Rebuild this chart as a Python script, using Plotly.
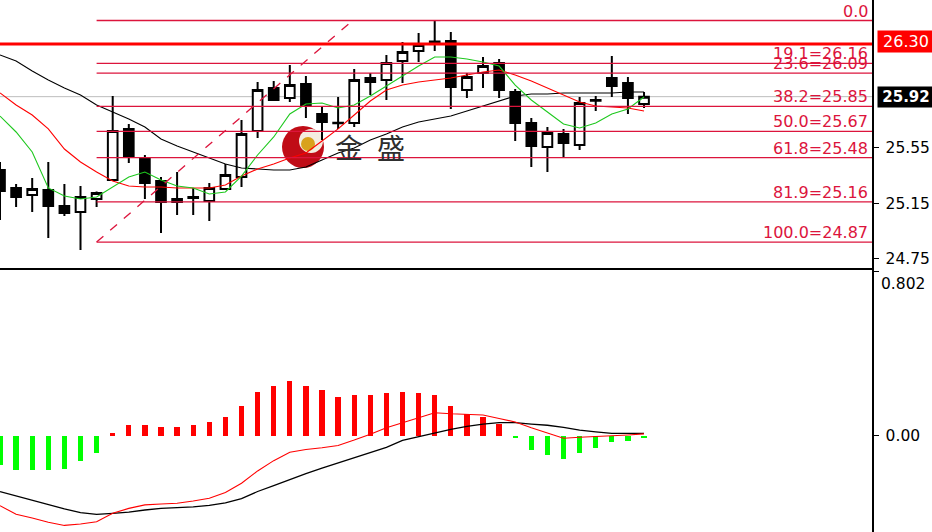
import plotly.graph_objects as go

# ---------------- data ----------------
idx = list(range(41))
opens = [25.391, 25.261, 25.210, 25.246, 25.131, 25.087, 25.181, 25.318, 25.687, 25.477,
         25.311, 25.160, 25.196, 25.167, 25.253, 25.340, 25.672, 25.983, 25.910, 26.011,
         25.795, 25.728, 25.730, 26.055, 26.040, 26.178, 26.250, 26.300, 26.322, 25.968,
         26.091, 26.163, 25.954, 25.730, 25.557, 25.651, 25.571, 25.890, 26.055, 26.019,
         25.867]
highs = [25.448, 25.289, 25.333, 25.448, 25.289, 25.275, 25.235, 25.925, 25.723, 25.499,
         25.340, 25.376, 25.261, 25.297, 25.434, 25.752, 26.026, 26.033, 26.149, 26.069,
         25.845, 25.918, 26.120, 26.091, 26.221, 26.315, 26.380, 26.474, 26.387, 26.091,
         26.206, 26.192, 25.975, 25.766, 25.701, 25.687, 25.918, 25.925, 26.214, 26.062,
         25.954]
lows = [25.030, 25.123, 25.087, 24.900, 25.058, 24.813, 25.123, 25.311, 25.441, 25.181,
        24.936, 25.066, 25.066, 25.022, 25.246, 25.268, 25.622, 25.889, 25.882, 25.766,
        25.607, 25.687, 25.701, 25.932, 25.896, 26.019, 26.170, 26.250, 25.831, 25.910,
        25.983, 25.910, 25.600, 25.412, 25.376, 25.484, 25.535, 25.817, 25.918, 25.795,
        25.838]
closes = [25.239, 25.196, 25.253, 25.131, 25.080, 25.196, 25.225, 25.672, 25.492, 25.297,
          25.160, 25.181, 25.188, 25.261, 25.354, 25.651, 25.968, 25.896, 26.004, 25.860,
          25.737, 25.732, 26.040, 26.026, 26.163, 26.243, 26.293, 26.318, 25.990, 26.062,
          26.141, 25.968, 25.730, 25.564, 25.658, 25.586, 25.874, 25.896, 25.997, 25.910,
          25.920]

ma_green = [25.780, 25.665, 25.521, 25.261, 25.203, 25.181, 25.196, 25.268, 25.340, 25.376,
            25.318, 25.275, 25.261, 25.217, 25.232, 25.347, 25.499, 25.629, 25.795, 25.867,
            25.874, 25.838, 25.860, 25.925, 25.997, 26.069, 26.141, 26.206, 26.206, 26.192,
            26.170, 26.141, 26.004, 25.896, 25.809, 25.723, 25.694, 25.730, 25.795, 25.831,
            25.918]
ma_red = [25.947, 25.860, 25.788, 25.687, 25.542, 25.448, 25.376, 25.311, 25.275, 25.268,
          25.268, 25.261, 25.261, 25.261, 25.282, 25.347, 25.398, 25.434, 25.477, 25.513,
          25.600, 25.687, 25.788, 25.889, 25.968, 26.004, 26.026, 26.040, 26.055, 26.076,
          26.098, 26.113, 26.076, 26.033, 25.983, 25.932, 25.882, 25.853, 25.845, 25.838,
          25.817]
ma_black = [26.221, 26.178, 26.105, 26.040, 25.983, 25.932, 25.860, 25.809, 25.759, 25.701,
            25.614, 25.564, 25.521, 25.477, 25.434, 25.405, 25.398, 25.391, 25.391, 25.412,
            25.463, 25.513, 25.549, 25.607, 25.651, 25.701, 25.737, 25.759, 25.780, 25.817,
            25.853, 25.889, 25.925, 25.939, 25.939, 25.947, 25.947, 25.947, 25.947, 25.954,
            25.954]

macd_hist = [-0.141, -0.165, -0.165, -0.165, -0.160, -0.120, -0.081, 0.016, 0.053, 0.053,
             0.045, 0.045, 0.053, 0.070, 0.092, 0.146, 0.214, 0.245, 0.267, 0.245,
             0.222, 0.191, 0.199, 0.199, 0.207, 0.214, 0.207, 0.199, 0.146, 0.107,
             0.094, 0.058, -0.012, -0.068, -0.092, -0.113, -0.084, -0.060, -0.031, -0.023,
             -0.008]
macd_black = [-0.271, -0.292, -0.314, -0.335, -0.355, -0.373, -0.381, -0.376, -0.370, -0.360,
              -0.352, -0.348, -0.345, -0.338, -0.325, -0.305, -0.270, -0.242, -0.211, -0.183,
              -0.156, -0.131, -0.107, -0.083, -0.055, -0.022, -0.003, 0.015, 0.032, 0.047,
              0.058, 0.065, 0.065, 0.058, 0.052, 0.042, 0.028, 0.020, 0.013, 0.013,
              0.013]
macd_red = [-0.339, -0.381, -0.399, -0.420, -0.435, -0.428, -0.417, -0.376, -0.352, -0.335,
            -0.331, -0.327, -0.316, -0.303, -0.275, -0.230, -0.170, -0.120, -0.079, -0.066,
            -0.057, -0.046, -0.020, 0.008, 0.040, 0.065, 0.090, 0.113, 0.108, 0.104,
            0.102, 0.085, 0.068, 0.040, 0.015, -0.011, -0.006, -0.003, 0.000, 0.005,
            0.010]

fib_pcts = ["0.0", "19.1", "23.6", "38.2", "50.0", "61.8", "81.9", "100.0"]
fib_prices = [26.47, 26.16, 26.09, 25.85, 25.67, 25.48, 25.16, 24.87]
fib_start = 6
trend_x = [6, 21.7]
trend_y = [24.87, 26.45]

price_ticks = [24.75, 25.15, 25.55]
hline_price = 26.30
last_price = 25.92
macd_ticks = [0.0, 0.802]
macd_ticktext = ["0.00", ""]
macd_max_label = "0.802"
watermark = "金\u2002盛"

# ---------------- styling constants ----------------
X_RANGE = [0, 54.16]
Y_RANGE = [24.683, 26.618]
Y2_RANGE = [-0.467, 0.807]
FIB_COLOR = "#dc143c"
FONT = "DejaVu Sans"

fig = go.Figure()

fig.add_trace(go.Candlestick(
    x=idx, open=opens, high=highs, low=lows, close=closes,
    increasing=dict(line=dict(color="black", width=2), fillcolor="white"),
    decreasing=dict(line=dict(color="black", width=2), fillcolor="black"),
    whiskerwidth=0, showlegend=False, hoverinfo="skip",
    xaxis="x", yaxis="y"))

for vals, col in [(ma_black, "black"), (ma_red, "#ff0000"), (ma_green, "#1ec81e")]:
    fig.add_trace(go.Scatter(x=idx, y=vals, mode="lines",
                             line=dict(color=col, width=1.1),
                             showlegend=False, hoverinfo="skip",
                             xaxis="x", yaxis="y"))

fig.add_trace(go.Scatter(x=trend_x, y=trend_y, mode="lines",
                         line=dict(color=FIB_COLOR, width=1.3, dash="dash"),
                         showlegend=False, hoverinfo="skip", xaxis="x", yaxis="y"))

fig.add_trace(go.Bar(x=idx, y=macd_hist, width=0.33,
                     marker=dict(color=["#ff0000" if v >= 0 else "#00ff00" for v in macd_hist],
                                 line=dict(width=0)),
                     showlegend=False, hoverinfo="skip", xaxis="x2", yaxis="y2"))
fig.add_trace(go.Scatter(x=idx, y=macd_black, mode="lines", line=dict(color="black", width=1.3),
                         showlegend=False, hoverinfo="skip", xaxis="x2", yaxis="y2"))
fig.add_trace(go.Scatter(x=idx, y=macd_red, mode="lines", line=dict(color="#ff0000", width=1.1),
                         showlegend=False, hoverinfo="skip", xaxis="x2", yaxis="y2"))

shapes = []
shapes.append(dict(type="line", xref="paper", yref="y", x0=0, x1=1, y0=last_price, y1=last_price,
                   line=dict(color="#bdbdbd", width=1), layer="below"))
for p in fib_prices:
    shapes.append(dict(type="line", xref="x", yref="y", x0=fib_start, x1=X_RANGE[1], y0=p, y1=p,
                       line=dict(color=FIB_COLOR, width=1.3), layer="above"))
shapes.append(dict(type="line", xref="paper", yref="y", x0=0, x1=1, y0=hline_price, y1=hline_price,
                   line=dict(color="#ff0000", width=3), layer="above"))

# watermark logo
W, H = 872.0, 532.0
def circ(cx, cy, r, color):
    return dict(type="circle", xref="paper", yref="paper",
                x0=(cx - r) / W, x1=(cx + r) / W, y0=1 - (cy + r) / H, y1=1 - (cy - r) / H,
                fillcolor=color, line=dict(width=0), layer="below")
shapes.append(circ(303, 147, 21, "#c00c16"))
shapes.append(circ(311, 141, 12, "#f4ede0"))
shapes.append(circ(308, 144, 7, "#d9a21c"))

annotations = []
for pct, p in zip(fib_pcts, fib_prices):
    txt = pct if pct == "0.0" else f"{pct}={p:.2f}"
    annotations.append(dict(xref="paper", yref="y", x=1, y=p, xanchor="right", yanchor="bottom",
                            xshift=-2, yshift=-2, text=txt, showarrow=False,
                            font=dict(family=FONT, size=16, color=FIB_COLOR)))
annotations.append(dict(xref="paper", yref="y", x=1, y=hline_price, xanchor="left", yanchor="middle",
                        xshift=5, yshift=3, text=f"{hline_price:.2f}", showarrow=False, bgcolor="#ff0000",
                        borderpad=1, width=54, align="center",
                        font=dict(family=FONT, size=16, color="white")))
annotations.append(dict(xref="paper", yref="y", x=1, y=last_price, xanchor="left", yanchor="middle",
                        xshift=5, text=f"<b>{last_price:.2f}</b>", showarrow=False, bgcolor="black",
                        borderpad=1, width=54, align="center",
                        font=dict(family=FONT, size=15, color="white")))
annotations.append(dict(xref="paper", yref="y2", x=1, y=macd_ticks[1], xanchor="left", yanchor="top",
                        xshift=7, yshift=-2, text=macd_max_label, showarrow=False,
                        font=dict(family=FONT, size=15.5, color="black")))
annotations.append(dict(xref="paper", yref="paper", x=370 / W, y=1 - 147 / H, xanchor="center",
                        yanchor="middle", text=watermark, showarrow=False,
                        font=dict(family="Noto Sans CJK SC", size=28, color="#2e2e2e")))

axis_common = dict(showgrid=False, zeroline=False)
fig.update_layout(
    width=932, height=532,
    margin=dict(l=0, r=60, t=0, b=0),
    paper_bgcolor="white", plot_bgcolor="white",
    boxgap=0.4, boxgroupgap=0,
    bargap=0,
    showlegend=False,
    xaxis=dict(domain=[0, 1], range=X_RANGE, anchor="y", showticklabels=False, ticks="",
               showline=True, linecolor="black", linewidth=1.5,
               rangeslider=dict(visible=False), **axis_common),
    yaxis=dict(domain=[1 - 268 / H, 1], range=Y_RANGE, anchor="x", side="right",
               tickvals=price_ticks, ticktext=[f"{v:.2f}" for v in price_ticks],
               ticks="outside", ticklen=5, tickcolor="black", ticklabelstandoff=4,
               showline=True, linecolor="black", linewidth=1.5,
               tickfont=dict(family=FONT, size=15.5, color="black"), **axis_common),
    xaxis2=dict(domain=[0, 1], range=X_RANGE, anchor="y2", side="top", showticklabels=False,
                ticks="", showline=True, linecolor="black", linewidth=1.5, matches="x", **axis_common),
    yaxis2=dict(domain=[0, 1 - 270 / H], range=Y2_RANGE, anchor="x2", side="right",
                tickvals=macd_ticks, ticktext=macd_ticktext,
                ticks="outside", ticklen=5, tickcolor="black", ticklabelstandoff=4,
                showline=True, linecolor="black", linewidth=1.5,
                tickfont=dict(family=FONT, size=15.5, color="black"), **axis_common),
    shapes=shapes,
    annotations=annotations,
)

fig.write_html("out.html", config={"displayModeBar": False, "staticPlot": True},
               post_script="document.body.style.margin='0';document.body.style.overflow='hidden';")
